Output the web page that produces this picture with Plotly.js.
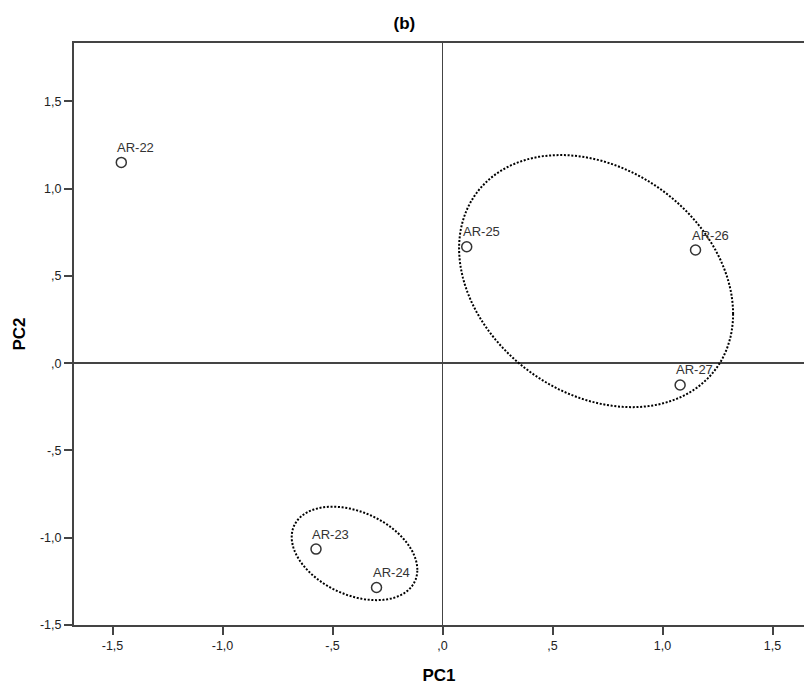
<!DOCTYPE html>
<html>
<head>
<meta charset="utf-8">
<script src="https://cdn.plot.ly/plotly-3.0.1.min.js"></script>
<style>html,body{margin:0;padding:0;background:#fff;overflow:hidden}</style>
</head>
<body>
<div id="chart" style="width:804px;height:686px"></div>
<script>
// Data
const labels = ["AR-22", "AR-23", "AR-24", "AR-25", "AR-26", "AR-27"];
const pc1 = [-1.46, -0.575, -0.30, 0.11, 1.15, 1.08];
const pc2 = [1.15, -1.065, -1.285, 0.667, 0.648, -0.125];
const tickVals = [-1.5, -1.0, -0.5, 0.0, 0.5, 1.0, 1.5];
const tickText = ["-1,5", "-1,0", "-,5", ",0", ",5", "1,0", "1,5"];
// Group ellipses: centre (x, y) and covariance-like shape (a = var x, b = var y, c = cov)
const groupCx = [0.698, -0.40];
const groupCy = [0.470, -1.090];
const groupA = [0.3878, 0.0815];
const groupB = [0.5214, 0.0716];
const groupC = [-0.1172, -0.0268];

function ellipsePath(cx, cy, a, b, c) {
  const l11 = Math.sqrt(a), l21 = c / l11, l22 = Math.sqrt(b - l21 * l21);
  let d = "";
  const n = 160;
  for (let i = 0; i <= n; i++) {
    const t = 2 * Math.PI * i / n;
    const u = Math.cos(t), v = Math.sin(t);
    const x = cx + l11 * u;
    const y = cy + l21 * u + l22 * v;
    d += (i === 0 ? "M" : "L") + x.toFixed(4) + "," + y.toFixed(4);
  }
  return d + "Z";
}

const shapes = groupCx.map((cx, i) => ({
  type: "path", xref: "x", yref: "y",
  path: ellipsePath(cx, groupCy[i], groupA[i], groupB[i], groupC[i]),
  line: {color: "#000", width: 2, dash: "2px,1.7px"}, layer: "above"
}));

const FONT = "Liberation Sans, Arial, sans-serif";
const annotations = labels.map((t, i) => ({
  x: pc1[i], y: pc2[i], xref: "x", yref: "y", text: t, showarrow: false,
  xanchor: "left", yanchor: "middle", xshift: -6, yshift: 15,
  font: {family: FONT, size: 13, color: "#333"}
}));

const trace = {
  x: pc1, y: pc2, mode: "markers", type: "scatter",
  marker: {symbol: "circle-open", size: 10, color: "#333", line: {width: 1.5, color: "#333"}},
  hoverinfo: "skip", showlegend: false
};

const axisFont = {family: FONT, size: 12.5, color: "#222"};
const layout = {
  width: 804, height: 686,
  margin: {l: 74, r: 0, t: 43, b: 61},
  paper_bgcolor: "#fff", plot_bgcolor: "#fff",
  title: {text: "<b>(b)</b>", x: 0.503, xanchor: "center", y: 0.966, yanchor: "middle",
    font: {family: FONT, size: 17, color: "#000"}},
  xaxis: {
    range: [-1.675, 1.643], tickvals: tickVals, ticktext: tickText,
    showgrid: false, zeroline: true, zerolinecolor: "#444", zerolinewidth: 1.5,
    showline: true, linecolor: "#444", linewidth: 2, mirror: true,
    ticks: "outside", ticklen: 8, tickwidth: 2, tickcolor: "#444",
    tickfont: axisFont,
    title: {text: "<b>PC1</b>", standoff: 17, font: {family: FONT, size: 17, color: "#000"}}
  },
  yaxis: {
    range: [-1.5, 1.834], tickvals: tickVals, ticktext: tickText,
    showgrid: false, zeroline: true, zerolinecolor: "#444", zerolinewidth: 1.5,
    showline: true, linecolor: "#444", linewidth: 2, mirror: false,
    ticks: "outside", ticklen: 8, tickwidth: 2, tickcolor: "#444",
    tickfont: axisFont,
    title: {text: "<b>PC2</b>", standoff: 10, font: {family: FONT, size: 17, color: "#000"}}
  },
  shapes: shapes,
  annotations: annotations
};

Plotly.newPlot("chart", [trace], layout, {displayModeBar: false, staticPlot: true});
</script>
</body>
</html>
